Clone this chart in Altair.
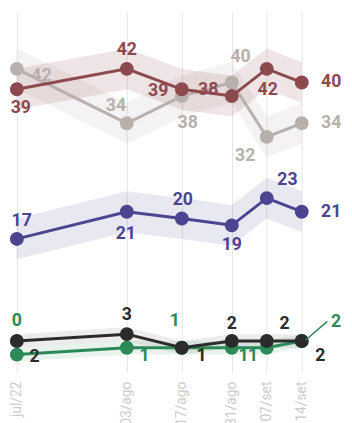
import altair as alt
import pandas as pd

# ---- data -------------------------------------------------------------
dates = ["2022-07-19", "2022-08-10", "2022-08-21", "2022-08-31", "2022-09-07", "2022-09-14"]
date_labels = ["jul/22", "03/ago", "17/ago", "31/ago", "07/set", "14/set"]

series_names = ["Cinza", "Vermelho", "Roxo", "Verde", "Preto"]
grey_vals = [42, 34, 38, 40, 32, 34]
red_vals = [39, 42, 39, 38, 42, 40]
purple_vals = [17, 21, 20, 19, 23, 21]
green_vals = [0, 1, 1, 1, 1, 2]
black_vals = [2, 3, 1, 2, 2, 2]
error_margin = [3, 3, 3, 1, 1]

# ---- style / layout -----------------------------------------------------
colors = ["#b8b0ac", "#8c4a4f", "#4b4491", "#2b8a57", "#2b2b2b"]
band_opacity = [0.16, 0.09, 0.1, 0.1, 0.1]

# label nudges in pixels (dx, dy) for each point
label_nudge = {
    "Cinza":    [(25, 7), (-11, -17), (6, 27), (9, -26), (-22, 20), (30, 0)],
    "Vermelho": [(4, 19), (0, -19), (-24, 2), (-24, -6), (1, 22), (30, 0)],
    "Roxo":     [(5, -18), (-1, 23), (1, -19), (0, 20), (21, -18), (30, 0)],
    "Verde":    [(0, -34), (18, 8), (-7, -27), (12, 8), (-14, 8), (35, -19)],
    "Preto":    [(18, 16), (0, -19), (20, 8), (0, -17), (18, -17), (19, 15)],
}

W, H = 290, 367
Y_MIN, Y_MAX = -2.6, 50.4

d = pd.to_datetime(pd.Series(dates))
days = [int(v) for v in (d - d.iloc[0]).dt.days]
px_day = W / days[-1]
px_unit = H / (Y_MAX - Y_MIN)

all_vals = [grey_vals, red_vals, purple_vals, green_vals, black_vals]
rows = []
for s, vals, moe in zip(series_names, all_vals, error_margin):
    for j, v in enumerate(vals):
        dx, dy = label_nudge[s][j]
        rows.append({
            "series": s, "day": days[j], "value": v,
            "lo": v - moe, "hi": v + moe, "label": str(v),
            "xl": days[j] + dx / px_day, "yl": v - dy / px_unit,
        })
df = pd.DataFrame(rows)

xscale = alt.Scale(domain=[days[0], days[-1]], nice=False, zero=False)
yscale = alt.Scale(domain=[Y_MIN, Y_MAX], nice=False, zero=False)
cscale = alt.Scale(domain=series_names, range=colors)
oscale = alt.Scale(domain=series_names, range=band_opacity)

label_expr = "[" + ",".join(f"'{t}'" for t in date_labels) + "][indexof([" + \
    ",".join(str(v) for v in days) + "], datum.value)]"
xaxis = alt.Axis(values=days, labelExpr=label_expr, labelAngle=-90, grid=True,
                 gridColor="#e6e6e6", gridWidth=1, domain=False, ticks=False,
                 labelPadding=9, labelColor="#cccccc", labelFontSize=14,
                 labelFont="Roboto", labelFlush=False, labelOverlap=False, title=None)

X = alt.X("day:Q", scale=xscale, axis=xaxis)
Y = alt.Y("value:Q", scale=yscale, axis=None)

base = alt.Chart(df)

bands = base.mark_area(interpolate="linear").encode(
    x=X,
    y=alt.Y("lo:Q", scale=yscale, axis=None),
    y2="hi:Q",
    color=alt.Color("series:N", scale=cscale, legend=None),
    opacity=alt.Opacity("series:N", scale=oscale, legend=None),
    detail="series:N",
)

layers = [bands]
for s, c in zip(series_names, colors):
    sub = base.transform_filter(alt.datum.series == s)
    layers.append(sub.mark_line(color=c, strokeWidth=3).encode(x=X, y=Y))
    layers.append(sub.mark_circle(color=c, size=200, opacity=1).encode(x=X, y=Y))

leader = base.transform_filter(
    (alt.datum.series == "Verde") & (alt.datum.day == days[-1])
).mark_rule(color=colors[3], strokeWidth=1.5, xOffset=4, yOffset=-1,
            x2Offset=26, y2Offset=-20).encode(x=X, x2="day:Q", y=Y, y2="value:Q")
layers.append(leader)

labels = base.mark_text(font="Roboto", fontSize=18, fontWeight="bold",
                        align="center", baseline="middle").encode(
    x=alt.X("xl:Q", scale=xscale, axis=xaxis),
    y=alt.Y("yl:Q", scale=yscale, axis=None),
    text="label:N",
    color=alt.Color("series:N", scale=cscale, legend=None),
)
layers.append(labels)

chart = alt.layer(*layers).properties(
    width=W, height=H,
    autosize=alt.AutoSizeParams(type="none"),
    padding={"left": 9, "top": 0, "right": 43, "bottom": 56},
    background="white",
).configure_view(strokeWidth=0)

chart.save("out.html", embed_options={"renderer": "svg", "actions": False})
